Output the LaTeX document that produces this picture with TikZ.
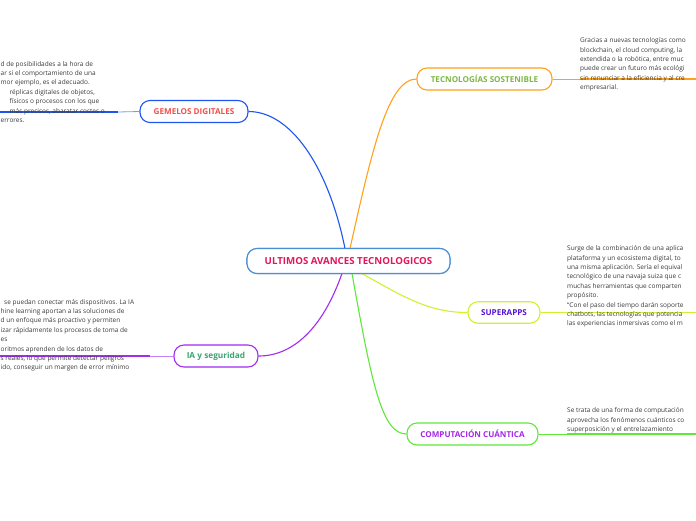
\documentclass[tikz,border=0pt]{standalone}
\usepackage{fontspec}
\setmainfont{Open Sans}
\definecolor{cblue}{HTML}{4A8FD6}
\definecolor{ccrim}{HTML}{E3165B}
\definecolor{gblue}{HTML}{1E55F0}
\definecolor{gred}{HTML}{F0504A}
\definecolor{torange}{HTML}{FFA21A}
\definecolor{tgreen}{HTML}{7DB843}
\definecolor{syellow}{HTML}{D2F032}
\definecolor{sindigo}{HTML}{5A14D2}
\definecolor{ipurple}{HTML}{A12CF2}
\definecolor{igreen}{HTML}{3AA66E}
\definecolor{qgreen}{HTML}{5FE83A}
\definecolor{qviolet}{HTML}{A528E6}
\definecolor{notegray}{HTML}{3A3A3A}
\tikzset{
  topic/.style={draw, line width=1.1pt, rounded corners=10pt, fill=white, font=\fontsize{8.1}{9}\selectfont\bfseries, minimum height=22pt, inner xsep=9pt, inner ysep=0pt},
  notetext/.style={font=\fontsize{6.5}{9.4}\selectfont, text=notegray, align=left, inner sep=0pt},
  branch/.style={line width=1.1pt},
}
\begin{document}
\begin{tikzpicture}[x=1pt,y=-1pt]
\useasboundingbox (0,0) rectangle (696,520);
\fill[white] (0,0) rectangle (696,520);
\clip (0,0) rectangle (696,520);

% nodes
\node[topic, draw=cblue, text=ccrim, font=\fontsize{9.7}{11}\selectfont\bfseries, minimum width=203pt, minimum height=25pt] (c) at (348.5,261) {ULTIMOS AVANCES TECNOLOGICOS};
\node[topic, draw=gblue, text=gred, minimum width=108pt] (g) at (194,111.5) {GEMELOS DIGITALES};
\node[topic, draw=torange, text=tgreen, minimum width=135pt] (t) at (484.5,79) {TECNOLOGÍAS SOSTENIBLE};
\node[topic, draw=syellow, text=sindigo, minimum width=72pt, minimum height=21.5pt] (s) at (504,312.5) {SUPERAPPS};
\node[topic, draw=ipurple, text=igreen, minimum width=84pt, font=\fontsize{8.3}{9}\selectfont\bfseries] (i) at (216,356) {IA y seguridad};
\node[topic, draw=qgreen, text=qviolet, minimum width=131pt] (q) at (472.5,434) {COMPUTACIÓN CUÁNTICA};

\coordinate (cg) at (345,248.5);
\coordinate (ct) at (350,248.5);
\coordinate (cs) at (362,273.5);
\coordinate (ci) at (342,273.5);
\coordinate (cq) at (352,273.5);

% branches
\draw[branch, gblue] (cg) .. controls (328,165) and (290,111.5) .. (g.east);
\draw[branch, torange] (ct) .. controls (372,150) and (388,79) .. (t.west);
\draw[branch, syellow] (cs) .. controls (405,298) and (430,312.5) .. (s.west);
\draw[branch, ipurple] (ci) .. controls (322,330) and (292,356) .. (i.east);
\draw[branch, qgreen] (cq) .. controls (372,385) and (382,434) .. (q.west);

% note connectors
\coordinate (gn) at (118,112);
\coordinate (gend) at (0,112);
\draw[gblue!60, line width=0.8pt] (g.west) -- (gn);
\draw[gblue, line width=1.6pt] (gn) -- (gend);

\coordinate (tn) at (580,79);
\coordinate (tend) at (696,79);
\draw[torange, line width=0.8pt] (t.east) -- (tn);
\draw[torange, line width=1.2pt] (tn) -- (tend);

\coordinate (sn) at (567,312.5);
\coordinate (send) at (696,312.5);
\draw[syellow, line width=0.8pt] (s.east) -- (sn);
\draw[syellow, line width=1.4pt] (sn) -- (send);

\coordinate (in) at (150,356);
\coordinate (iend) at (0,356);
\draw[ipurple!60, line width=0.8pt] (i.west) -- (in);
\draw[ipurple, line width=1.6pt] (in) -- (iend);

\coordinate (qn) at (567,434);
\coordinate (qend) at (696,434);
\draw[qgreen, line width=0.8pt] (q.east) -- (qn);
\draw[qgreen, line width=1.2pt] (qn) -- (qend);

% notes
\node[notetext, anchor=north west] (gt) at (0.5,61) {d de posibilidades a la hora de\\
ar si el comportamiento de una\\
mor ejemplo, es el adecuado.\\
\hspace*{9pt}réplicas digitales de objetos,\\
\hspace*{9pt}físicos o procesos con los que\\
\hspace*{9pt}más precisos, abaratar costes o\\
errores.};

\node[notetext, anchor=north west] (tt) at (580,37.5) {Gracias a nuevas tecnologías como\\
blockchain, el cloud computing, la\\
extendida o la robótica, entre muc\\
puede crear un futuro más ecológi\\
sin renunciar a la eficiencia y al cre\\
empresarial.};

\node[notetext, anchor=north west] (st) at (567,245.5) {Surge de la combinación de una aplica\\
plataforma y un ecosistema digital, to\\
una misma aplicación. Sería el equival\\
tecnológico de una navaja suiza que c\\
muchas herramientas que comparten\\
propósito.\\
“Con el paso del tiempo darán soporte\\
chatbots, las tecnologías que potencia\\
las experiencias inmersivas como el m};

\node[notetext, anchor=north west] (it) at (0.5,299) {\hspace*{3.5pt}se puedan conectar más dispositivos. La IA\\
hine learning aportan a las soluciones de\\
d un enfoque más proactivo y permiten\\
izar rápidamente los procesos de toma de\\
es\\
oritmos aprenden de los datos de\\
s reales, lo que permite detectar peligros\\
ido, conseguir un margen de error mínimo};

\node[notetext, anchor=north west] (qt) at (567,407.5) {Se trata de una forma de computación\\
aprovecha los fenómenos cuánticos co\\
superposición y el entrelazamiento};

% center node on top of its branch ends
\node[topic, draw=cblue, text=ccrim, font=\fontsize{9.7}{11}\selectfont\bfseries, minimum width=203pt, minimum height=25pt] at (c) {ULTIMOS AVANCES TECNOLOGICOS};
\end{tikzpicture}
\end{document}
